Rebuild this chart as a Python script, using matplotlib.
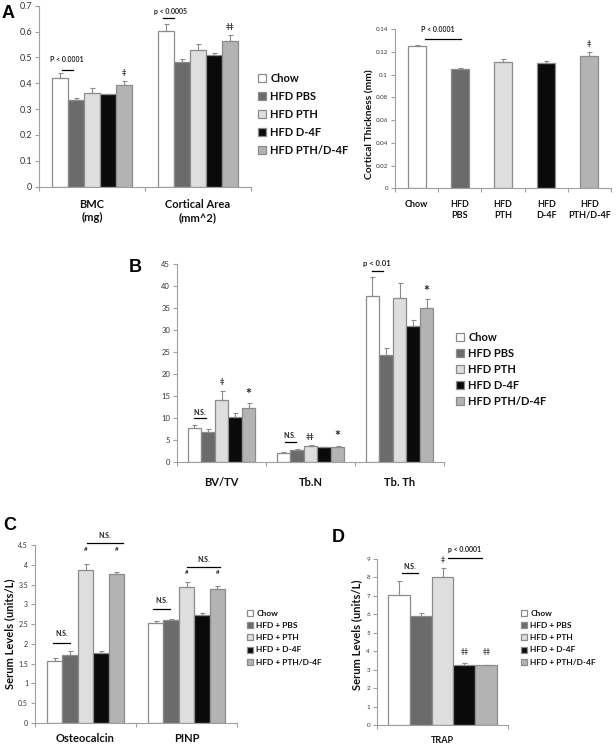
import numpy as np
import matplotlib
matplotlib.use("Agg")
import matplotlib.pyplot as plt
from matplotlib.ticker import FormatStrFormatter

plt.rcParams['font.family'] = ['Lato', 'DejaVu Sans']

# groups / legend text
series = ["Chow", "HFD PBS", "HFD PTH", "HFD D-4F", "HFD PTH/D-4F"]
series_cd = ["Chow", "HFD + PBS", "HFD + PTH", "HFD + D-4F", "HFD + PTH/D-4F"]

# panel A, left: BMC and cortical area (rows = series, cols = categories)
a_cats = ["BMC\n(mg)", "Cortical Area\n(mm^2)"]
a_mean = [[0.420, 0.601], [0.336, 0.484], [0.364, 0.530], [0.357, 0.511], [0.392, 0.562]]
a_err = [[0.019, 0.028], [0.008, 0.011], [0.017, 0.023], [0.003, 0.006], [0.017, 0.023]]

# panel A, right: cortical thickness
thick_labels = ["Chow", "HFD\nPBS", "HFD\nPTH", "HFD\nD-4F", "HFD\nPTH/D-4F"]
thick_mean = [0.1253, 0.1046, 0.1107, 0.1099, 0.1165]
thick_err = [0.0008, 0.0008, 0.0030, 0.0020, 0.0030]

# panel B
b_cats = ["BV/TV", "Tb.N", "Tb. Th"]
b_mean = [[7.65, 2.10, 37.7], [6.74, 2.77, 24.3], [14.0, 3.66, 37.3], [10.3, 3.30, 31.0], [12.3, 3.45, 35.1]]
b_err = [[0.75, 0.20, 4.4], [0.75, 0.15, 1.5], [2.1, 0.25, 3.3], [0.8, 0.15, 1.3], [1.1, 0.20, 2.0]]

# panel C
c_cats = ["Osteocalcin", "PINP"]
c_mean = [[1.556, 2.52], [1.72, 2.60], [3.87, 3.43], [1.78, 2.73], [3.77, 3.39]]
c_err = [[0.08, 0.07], [0.09, 0.03], [0.14, 0.13], [0.05, 0.05], [0.04, 0.07]]

# panel D
d_cats = ["TRAP"]
d_mean = [[7.03], [5.89], [8.02], [3.28], [3.24]]
d_err = [[0.79], [0.16], [0.49], [0.07], [0.04]]

colors = ["white", "#6b6b6b", "#dedede", "#0a0a0a", "#b3b3b3"]
EDGE = "#8c8c8c"
AXC = "#a0a0a0"
TXT = "#333333"

W, H = 616, 748
fig = plt.figure(figsize=(W / 100, H / 100), dpi=100)


def px_axes(l, t, r, b):
    return fig.add_axes([l / W, 1 - b / H, (r - l) / W, (b - t) / H])


def style(ax, ymax, ystep, tsize):
    for s in ['top', 'right']:
        ax.spines[s].set_visible(False)
    for s in ['left', 'bottom']:
        ax.spines[s].set_color(AXC)
        ax.spines[s].set_linewidth(0.8)
    ax.set_ylim(0, ymax)
    ax.set_yticks(np.arange(0, ymax + ystep / 2, ystep))
    ax.yaxis.set_major_formatter(FormatStrFormatter('%g'))
    ax.tick_params(axis='y', labelsize=tsize, color=AXC, labelcolor=TXT,
                   length=3, width=0.8, pad=2)


def xcats(ax, n, labels, lsize, lpad):
    ax.set_xlim(-0.5, n - 0.5)
    ax.set_xticks(np.arange(n + 1) - 0.5)
    ax.set_xticklabels([])
    ax.set_xticks(np.arange(n), minor=True)
    ax.set_xticklabels(labels, minor=True, fontsize=lsize, fontweight='bold',
                       color='#111111')
    ax.tick_params(axis='x', which='major', length=3, width=0.8, color=AXC)
    ax.tick_params(axis='x', which='minor', length=0, pad=lpad)


def grouped(ax, cats, means, errs, w, lsize, lpad):
    n = len(cats)
    xs = np.arange(n)
    bars = []
    for i in range(5):
        x = xs + (i - 2) * w
        b = ax.bar(x, means[i], w, color=colors[i], edgecolor=EDGE, linewidth=0.9)
        ax.errorbar(x, means[i], yerr=[np.zeros(n), errs[i]], fmt='none',
                    ecolor=EDGE, elinewidth=0.8, capsize=1.8, capthick=0.8)
        bars.append(b)
    xcats(ax, n, cats, lsize, lpad)
    return bars


def sig(ax, x0, x1, y, text=None, ty=None, tx=None, size=5):
    ax.plot([x0, x1], [y, y], color='black', lw=0.9, clip_on=False)
    if text:
        ax.text((x0 + x1) / 2 if tx is None else tx, ty, text, ha='center',
                va='center', fontsize=size, fontweight='bold', color='#222222')


def mark(ax, x, y, text, size=5.5):
    ax.text(x, y, text, ha='center', va='center', fontsize=size,
            fontweight='bold', color='#222222', clip_on=False)


def legend(handles, labels, x, y, size, spacing):
    fig.legend(handles, labels, loc='upper left', bbox_to_anchor=(x / W, 1 - y / H),
               frameon=False, prop={'size': size, 'weight': 'bold'},
               handlelength=0.75, handleheight=0.75, handletextpad=0.35,
               labelspacing=spacing, borderpad=0, borderaxespad=0,
               labelcolor='#111111')


# ---- A left
ax = px_axes(39, 5.7, 251, 186.7)
style(ax, 0.7, 0.1, 6.5)
bars = grouped(ax, a_cats, a_mean, a_err, 0.15, 8, 9)
sig(ax, -0.283, -0.179, 0.453, "P < 0.0001", 0.492, tx=-0.239)
sig(ax, 0.67, 0.77, 0.651, "p < 0.0005", 0.677, tx=0.736)
mark(ax, 0.3, 0.441, "\u2021")
mark(ax, 1.3, 0.620, "\u2021\u2021")
legend(bars, series, 258, 73, 8, 0.62)

# ---- A right
ax = px_axes(395, 29, 611, 188.3)
style(ax, 0.14, 0.02, 4.5)
for i in range(5):
    ax.bar(i, thick_mean[i], 0.42, color=colors[i], edgecolor=EDGE, linewidth=0.9)
ax.errorbar(np.arange(5), thick_mean, yerr=[np.zeros(5), thick_err], fmt='none',
            ecolor=EDGE, elinewidth=0.8, capsize=1.8, capthick=0.8)
xcats(ax, 5, thick_labels, 6.5, 8.5)
ax.set_ylabel("Cortical Thickness (mm)", fontsize=7.5, fontweight='bold', color='#111111')
ax.yaxis.set_label_coords(-0.097, 0.40)
sig(ax, 0.194, 1.03, 0.131, "P < 0.0001", 0.140, tx=0.495)
mark(ax, 4, 0.1274, "\u2021")

# ---- B
ax = px_axes(177, 264, 444, 462)
style(ax, 45, 5, 5.5)
bars = grouped(ax, b_cats, b_mean, b_err, 0.152, 8, 11)
sig(ax, -0.309, -0.174, 9.9, "N.S.", 11.2)
mark(ax, 0.0, 18.3, "\u2021")
mark(ax, 0.304, 15.4, "*", 10)
sig(ax, 0.713, 0.833, 4.47, "N.S.", 6.0, tx=0.77)
mark(ax, 1.0, 5.9, "\u2021\u2021")
mark(ax, 1.304, 5.9, "*", 10)
sig(ax, 1.69, 1.81, 43.4, "p < 0.01", 45.2, tx=1.744, size=5.5)
mark(ax, 2.304, 38.9, "*", 10)
legend(bars, series, 456, 332, 8, 0.45)
fig.text(135 / W, 1 - 267 / H, "B", fontsize=13, fontweight='bold',
         family='Liberation Sans', ha='center', va='center')

# ---- C
ax = px_axes(35, 545, 237, 723)
style(ax, 4.5, 0.5, 5)
bars = grouped(ax, c_cats, c_mean, c_err, 0.153, 8, 7)
ax.set_ylabel("Serum Levels (units/L)", fontsize=8, fontweight='bold', color='#111111')
ax.yaxis.set_label_coords(-0.099, 0.5)
sig(ax, -0.322, -0.153, 2.02, "N.S.", 2.25)
mark(ax, 0.0, 4.38, "#", 4.5)
mark(ax, 0.306, 4.38, "#", 4.5)
sig(ax, 0.015, 0.371, 4.56, "N.S.", 4.73)
sig(ax, 0.668, 0.837, 2.87, "N.S.", 3.09)
mark(ax, 1.0, 3.8, "#", 4.5)
mark(ax, 1.306, 3.8, "#", 4.5)
sig(ax, 1.005, 1.332, 3.95, "N.S.", 4.14)
legend(bars, series_cd, 247, 610, 6, 0.62)

# ---- D
ax = px_axes(377, 559, 508, 725)
style(ax, 9, 1, 4.5)
bars = grouped(ax, d_cats, d_mean, d_err, 0.167, 6.5, 8)
ax.set_ylabel("Serum Levels (units/L)", fontsize=8, fontweight='bold', color='#111111')
ax.yaxis.set_label_coords(-0.115, 0.545)
sig(ax, -0.309, -0.187, 8.24, "N.S.", 8.6)
mark(ax, 0.0, 8.97, "\u2021", 5)
sig(ax, 0.042, 0.302, 9.06, "p < 0.0001", 9.5, tx=0.172)
mark(ax, 0.167, 3.98, "\u2021\u2021", 5)
mark(ax, 0.334, 3.98, "\u2021\u2021", 5)
legend(bars, series_cd, 521, 610, 6, 0.62)

# panel letters
for letter, x, y in [("A", 8, 13), ("C", 10, 526), ("D", 338, 538)]:
    fig.text(x / W, 1 - y / H, letter, fontsize=13, fontweight='bold',
             family='Liberation Sans', ha='center', va='center')

fig.savefig("out.png", dpi=100)
